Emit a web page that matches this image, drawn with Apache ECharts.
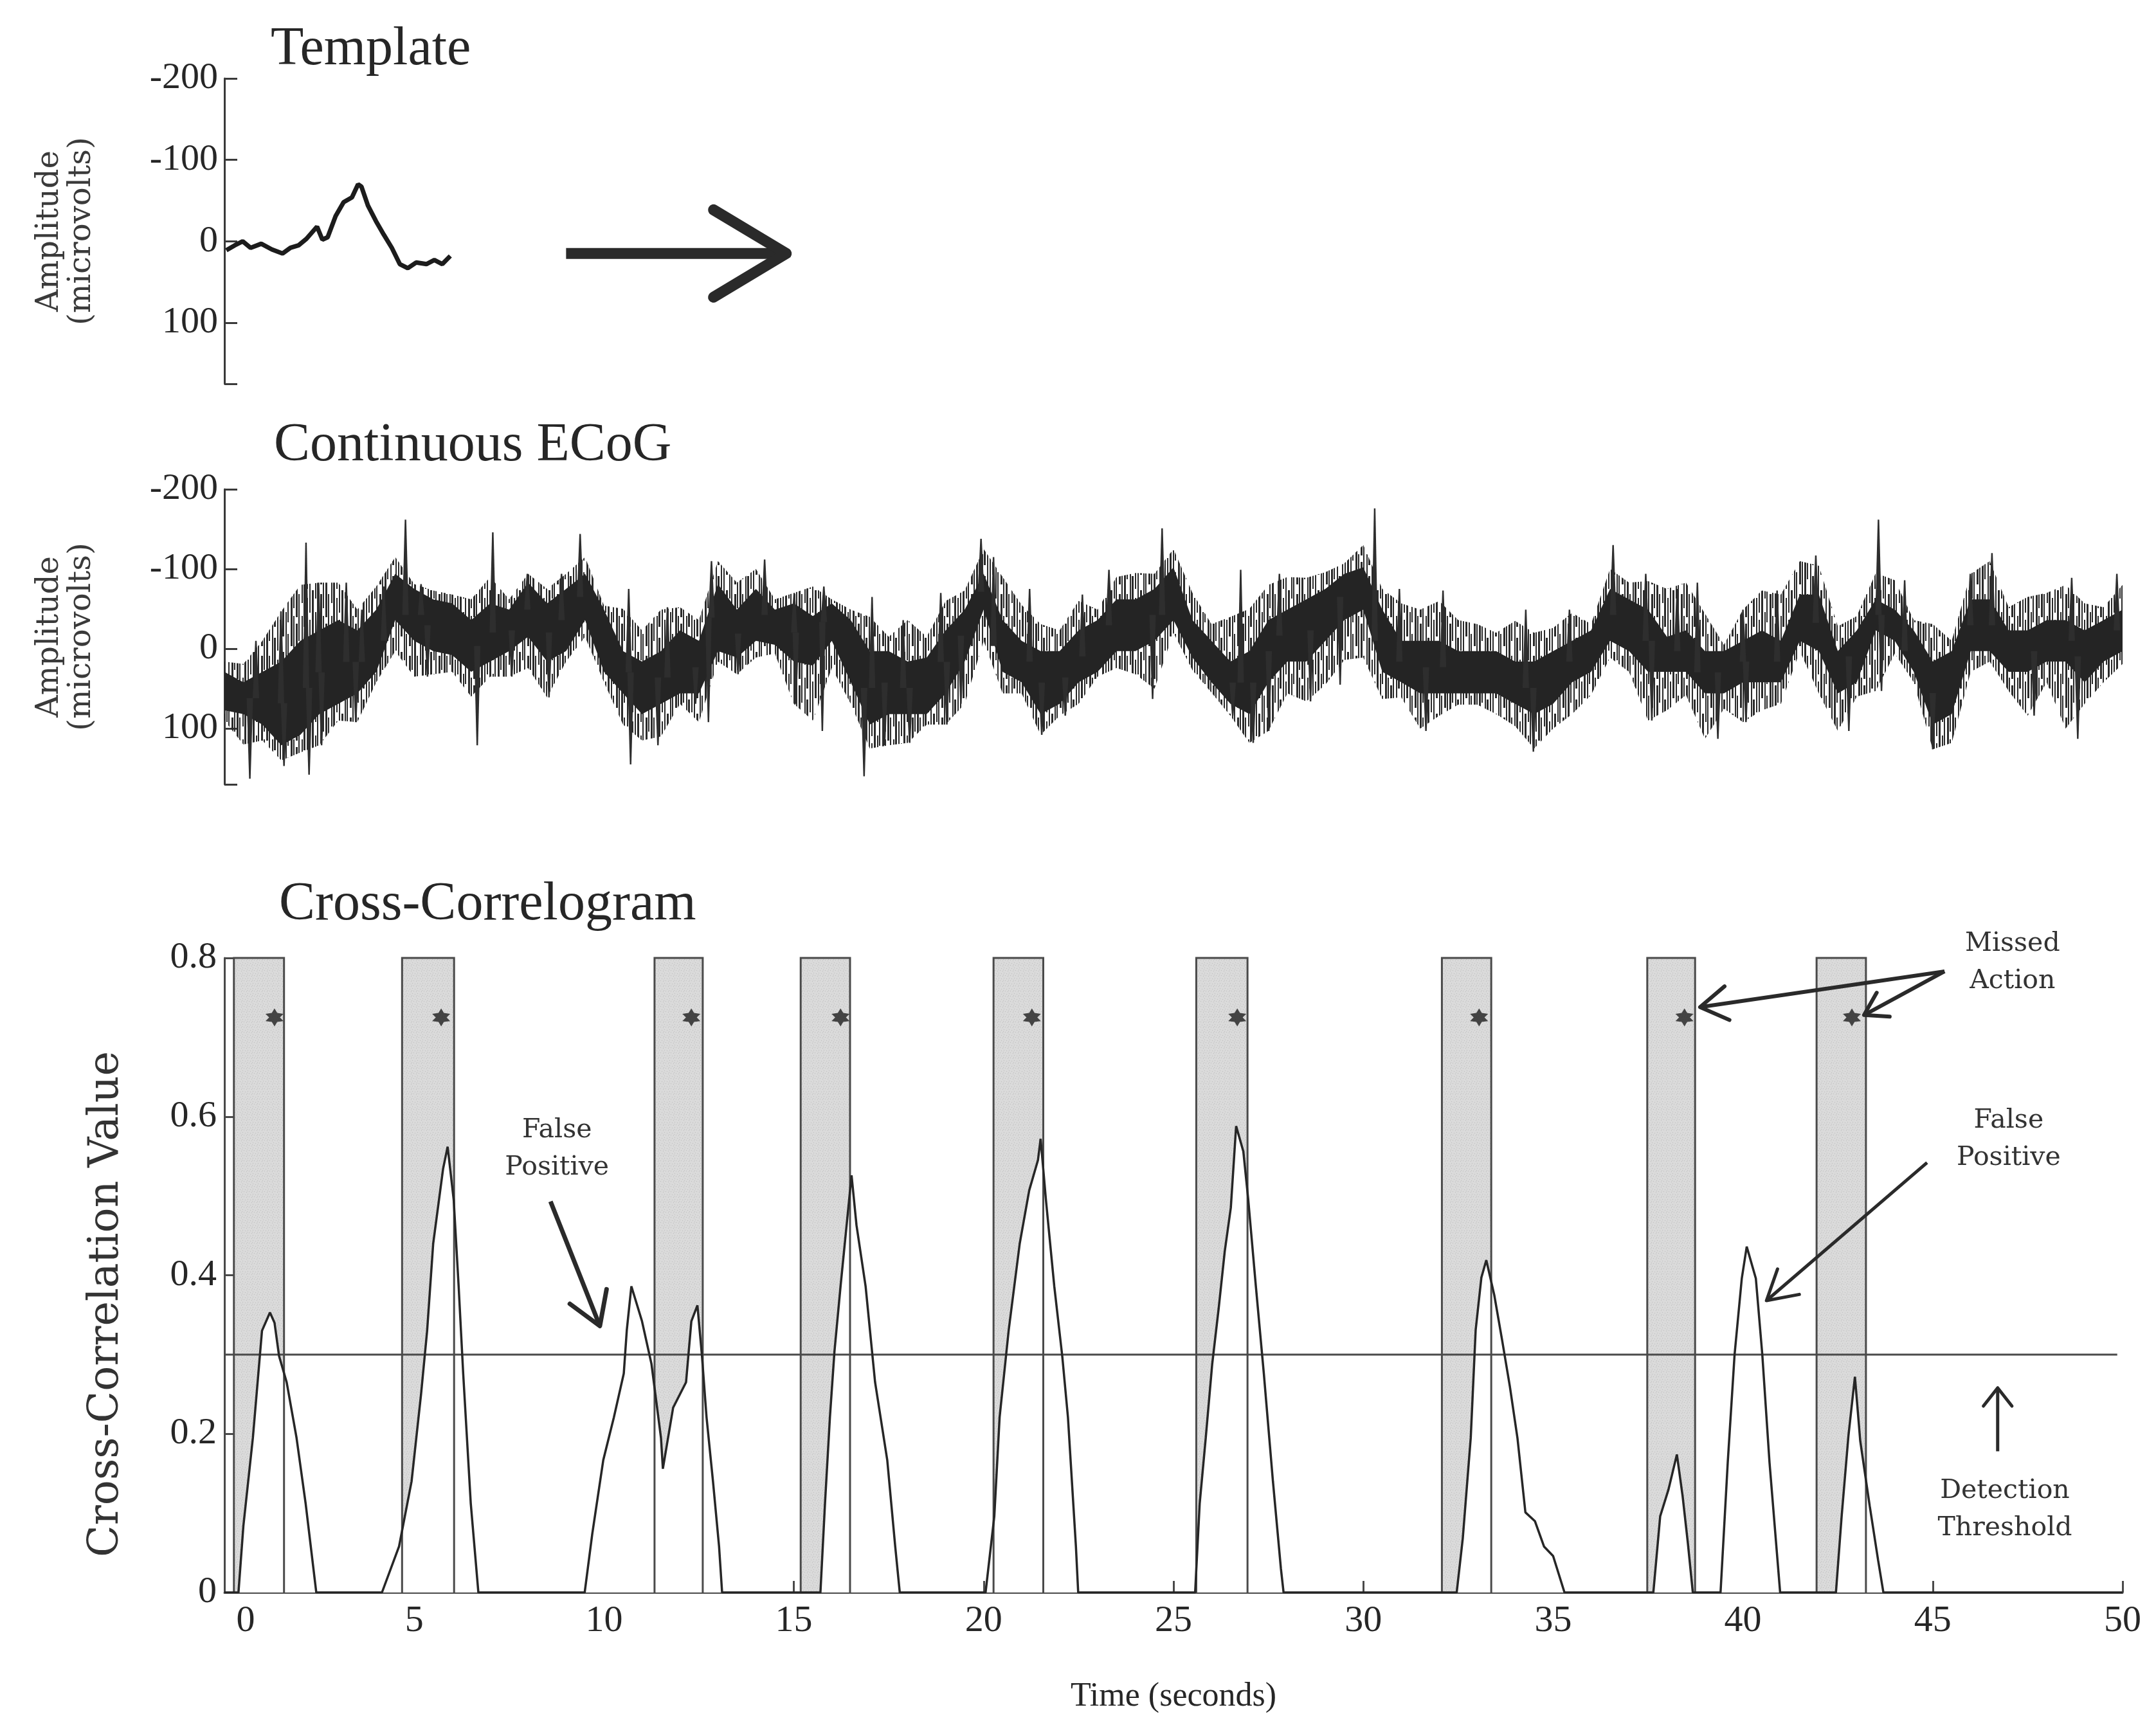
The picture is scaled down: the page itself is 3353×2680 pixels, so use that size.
<!DOCTYPE html>
<html>
<head>
<meta charset="utf-8">
<script src="https://cdn.jsdelivr.net/npm/echarts@6/dist/echarts.min.js"></script>
<style>
  html, body { margin: 0; padding: 0; background: #ffffff; }
  #chart { width: 3353px; height: 2680px; }
</style>
</head>
<body>
<div id="chart"></div>
<script>
// ---------------- data ----------------
// Template waveform: time (s) and amplitude (microvolts, negative is up)
const templateTime = [0.05, 0.27, 0.48, 0.69, 0.97, 1.25, 1.53, 1.74, 1.95, 2.16, 2.44, 2.58, 2.72, 2.93,
  3.14, 3.36, 3.52, 3.61, 3.78, 3.99, 4.2, 4.41, 4.62, 4.83, 5.05, 5.32, 5.53, 5.74, 5.95];
const templateAmp = [11, 5, 0, 8, 3, 10, 15, 8, 5, -3, -18, -2, -5, -31,
  -48, -54, -70, -67, -44, -25, -8, 8, 28, 33, 26, 28, 23, 28, 18];

// Continuous ECoG, sampled every ecogStep seconds:
// dense core of the trace (upper / lower edge) ...
const ecogStep = 0.5;
const ecogUpper = [29, 42, 29, 16, -10, -23, -36, -23, -49, -94, -75, -62, -57, -36, -57, -49, -83, -57, -75, -94,
  -49, 3, 16, 3, -23, -10, -81, -49, -75, -49, -57, -41, -57, -36, 3, 3, 16, 11, -23, -49,
  -94, -36, -10, 3, 3, -23, -36, -62, -62, -75, -102, -36, -10, 16, 3, -36, -49, -62, -75, -94,
  -102, -49, -10, -10, -10, 3, 3, 3, 16, 16, 3, -10, -23, -75, -62, -49, -15, -23, 3, 3,
  -10, -23, -10, -68, -68, 3, -23, -62, -49, -23, 16, 3, -62, -62, -23, -23, -36, -36, -23, -36, -49];
const ecogLower = [77, 82, 95, 121, 108, 82, 69, 56, 29, -36, -10, 3, 8, 29, 16, 3, -15, 16, 3, -36,
  29, 56, 82, 69, 56, 56, 3, 11, -10, -5, 16, 21, -10, 42, 95, 82, 82, 82, 56, 16,
  -49, 29, 42, 82, 69, 42, 29, 3, 3, -10, -36, 11, 42, 69, 82, 42, 16, 16, -10, -36,
  -49, 29, 42, 56, 56, 56, 56, 56, 69, 82, 69, 42, 29, -10, 3, 29, 29, 29, 56, 56,
  42, 42, 42, -10, 3, 56, 42, -23, -10, 29, 95, 82, 3, 3, 29, 29, 16, 16, 42, 16, 3];
// ... and the reach of the fine jitter around it
const ecogJitterUp = [16, 19, -10, -47, -80, -83, -83, -49, -78, -115, -81, -73, -68, -62, -90, -62, -94, -75, -94, -115,
  -54, -50, -23, -49, -52, -36, -110, -83, -100, -62, -70, -78, -62, -49, -40, -15, -36, -15, -60, -73,
  -125, -90, -55, -31, -23, -60, -49, -90, -95, -94, -125, -70, -31, -40, -50, -80, -90, -89, -96, -107,
  -130, -75, -57, -49, -60, -36, -31, -20, -35, -20, -26, -45, -31, -100, -83, -85, -75, -83, -44, -5,
  -49, -73, -68, -110, -104, -28, -41, -95, -86, -36, -31, -10, -94, -110, -52, -65, -70, -80, -57, -52, -80];
const ecogJitterDown = [90, 120, 115, 140, 130, 121, 90, 92, 42, 3, 35, 32, 29, 60, 35, 35, 24, 61, 16, -15,
  42, 95, 115, 110, 69, 92, 16, 32, 11, 6, 69, 90, 24, 69, 125, 121, 118, 95, 95, 69,
  -10, 56, 56, 108, 84, 69, 35, 24, 32, 50, -20, 27, 55, 84, 118, 103, 56, 66, 45, 14,
  11, 63, 61, 100, 84, 70, 70, 82, 97, 125, 100, 82, 58, 11, 29, 90, 77, 58, 113, 75,
  92, 77, 69, 3, 56, 103, 60, 53, 6, 42, 126, 118, 29, 16, 53, 84, 42, 100, 69, 42, 19];
// Isolated excursions of the ECoG trace: [time (s), amplitude (microvolts)]
const ecogSpikes = [[0.67, 163], [0.83, -10], [1.49, -47], [1.57, 147], [2.15, -133], [2.23, 158], [2.48, -83],
  [2.56, 121], [3.21, -83], [3.46, 92], [3.62, -49], [4.2, -78], [4.77, -162], [5.18, -81], [5.35, 35],
  [6.66, 121], [7.07, -146], [7.57, 35], [7.98, -94], [8.55, 61], [8.88, -94], [9.37, -144], [10.65, -75],
  [10.7, 145], [11.42, 121], [11.67, -52], [12.41, 69], [12.75, 92], [12.83, -110], [13.53, 32], [14.23, -112],
  [15.01, -70], [15.05, 69], [15.75, 103], [15.79, -78], [16.85, 160], [17.06, -65], [17.39, 121], [17.88, -36],
  [18.05, 118], [18.87, -70], [19.03, 95], [19.4, 69], [19.93, -138], [20.26, -115], [21.21, -75], [21.53, 108],
  [22.15, 84], [22.6, -68], [23.3, -99], [24.45, 63], [24.7, -151], [26.56, 84], [26.77, -99], [27.1, 118],
  [27.51, 103], [27.79, -94], [28.61, 66], [29.39, 45], [30.3, -176], [30.95, -75], [31.65, 103], [32.1, -73],
  [34.28, -49], [34.48, 129], [35.43, -49], [36.58, -130], [37.44, -94], [37.6, 90], [38.27, -75], [38.8, -83],
  [39.34, 113], [40.0, -49], [40.08, 92], [40.9, -73], [41.92, -117], [42.79, 103], [43.57, -162], [43.65, 53],
  [44.26, -86], [45.0, 126], [45.99, -94], [46.56, -120], [47.67, 84], [48.66, -89], [48.82, 113], [49.85, -94]];

// Cross-correlogram: [time (s), cross-correlation value]
const xcorr = [[0, 0], [0.37, 0], [0.5, 0.084], [0.75, 0.195], [0.99, 0.33], [1.2, 0.353], [1.32, 0.34], [1.44, 0.298],
  [1.64, 0.265], [1.9, 0.195], [2.14, 0.112], [2.42, 0],
  [4.15, 0], [4.6, 0.058], [4.93, 0.14], [5.18, 0.25], [5.34, 0.33], [5.5, 0.44], [5.76, 0.534], [5.88, 0.562],
  [6.04, 0.495], [6.17, 0.386], [6.29, 0.276], [6.49, 0.112], [6.69, 0],
  [9.49, 0], [9.69, 0.074], [9.98, 0.167], [10.26, 0.221], [10.52, 0.276], [10.6, 0.331], [10.72, 0.386], [11.0, 0.342],
  [11.25, 0.288], [11.5, 0.195], [11.55, 0.156], [11.82, 0.233], [12.16, 0.265], [12.3, 0.342], [12.46, 0.362],
  [12.58, 0.298], [12.7, 0.221], [12.87, 0.14], [13.03, 0.058], [13.11, 0],
  [15.7, 0], [15.82, 0.112], [15.95, 0.221], [16.07, 0.304], [16.23, 0.386], [16.4, 0.468], [16.52, 0.526],
  [16.65, 0.463], [16.89, 0.386], [17.14, 0.265], [17.46, 0.167], [17.67, 0.058], [17.79, 0],
  [20.05, 0], [20.28, 0.096], [20.42, 0.221], [20.66, 0.331], [20.95, 0.44], [21.2, 0.507], [21.43, 0.545], [21.5, 0.572],
  [21.64, 0.495], [21.86, 0.386], [22.07, 0.298], [22.22, 0.221], [22.43, 0.058], [22.49, 0],
  [25.57, 0], [25.69, 0.112], [25.85, 0.195], [26.02, 0.288], [26.19, 0.358], [26.35, 0.43], [26.51, 0.485], [26.65, 0.588],
  [26.84, 0.556], [26.97, 0.495], [27.17, 0.386], [27.38, 0.276], [27.62, 0.14], [27.83, 0.03], [27.9, 0],
  [32.46, 0], [32.62, 0.068], [32.83, 0.195], [32.96, 0.331], [33.11, 0.397], [33.24, 0.419], [33.45, 0.375], [33.65, 0.32],
  [33.86, 0.26], [34.06, 0.195], [34.27, 0.101], [34.52, 0.09], [34.76, 0.058], [35.0, 0.046], [35.3, 0],
  [37.64, 0], [37.82, 0.096], [38.04, 0.13], [38.26, 0.174], [38.41, 0.122], [38.55, 0.062], [38.68, 0],
  [39.41, 0], [39.6, 0.164], [39.78, 0.3], [39.97, 0.396], [40.1, 0.436], [40.34, 0.396], [40.51, 0.3], [40.7, 0.164], [40.98, 0],
  [42.45, 0], [42.6, 0.096], [42.78, 0.198], [42.95, 0.272], [43.09, 0.191], [43.34, 0.109], [43.56, 0.041], [43.7, 0], [50, 0]];

// Action windows [start, end] (s) and the action markers inside them
const actionWindows = [[0.25, 1.57], [4.68, 6.05], [11.33, 12.6], [15.18, 16.48], [20.26, 21.57],
  [25.6, 26.95], [32.07, 33.37], [37.48, 38.74], [41.94, 43.24]];
const actionTimes = [1.32, 5.71, 12.3, 16.23, 21.27, 26.68, 33.05, 38.46, 42.87];
const actionLevel = 0.725;
const detectionThreshold = 0.3;
const thresholdEnd = 49.86;

// Tick labels
const timeTickLabels = ['0', '5', '10', '15', '20', '25', '30', '35', '40', '45', '50'];
const ampTickLabels = ['-200', '-100', '0', '100'];
const corrTickLabels = ['0', '0.2', '0.4', '0.6', '0.8'];

// ---------------- textures ----------------
// broken vertical strokes used for the jitter around the ECoG core
function strokeTexture() {
  const c = document.createElement('canvas');
  c.width = 46; c.height = 96;
  const g = c.getContext('2d');
  g.fillStyle = '#2a2a2a';
  const cols = [0, 4, 9, 12, 17, 21, 25, 30, 33, 38, 42];
  cols.forEach((x, k) => {
    const w = k % 3 === 0 ? 3 : 2;
    const gapStart = (k * 37) % 96;
    const gapLen = 10 + (k * 13) % 16;
    for (let y = 0; y < 96; y++) {
      const inGap = ((y - gapStart + 96) % 96) < gapLen;
      if (!inGap) g.fillRect(x, y, w, 1);
    }
  });
  return c;
}
// light stipple for the action windows
function stippleTexture() {
  const c = document.createElement('canvas');
  c.width = 8; c.height = 8;
  const g = c.getContext('2d');
  g.fillStyle = '#dadada';
  g.fillRect(0, 0, 8, 8);
  g.fillStyle = '#bdbdbd';
  [[1, 1], [5, 2], [3, 5], [7, 6], [0, 4]].forEach(([x, y]) => g.fillRect(x, y, 1, 1));
  return c;
}
const strokeFill = { image: strokeTexture(), repeat: 'repeat' };
const stippleFill = { image: stippleTexture(), repeat: 'repeat' };

// ---------------- chart ----------------
const chart = echarts.init(document.getElementById('chart'), null, { renderer: 'canvas', width: 3353, height: 2680 });

const SERIF = 'Liberation Serif';
const WIDE_SERIF = 'DejaVu Serif';
const INK = '#262626';
const tickFont = { fontFamily: SERIF, fontSize: 58, color: INK };
const titleFont = { fontFamily: SERIF, fontSize: 84, fontWeight: 'normal', color: INK };

function ampAxis(gridIndex, max) {
  return {
    type: 'value', gridIndex, inverse: true, min: -200, max, interval: 100,
    axisLine: { show: true, lineStyle: { color: '#3a3a3a', width: 3 } },
    axisTick: { show: true, inside: true, length: 20, lineStyle: { color: '#3a3a3a', width: 3 } },
    splitLine: { show: false },
    axisLabel: Object.assign({ margin: 10, formatter: v => (ampTickLabels.includes(String(v)) ? String(v) : '') }, tickFont),
    name: 'Amplitude\n(microvolts)', nameLocation: 'middle', nameRotate: 90, nameGap: 196,
    nameTextStyle: { fontFamily: WIDE_SERIF, fontSize: 48, lineHeight: 50, color: '#3a3a3a' }
  };
}
function hiddenTimeAxis(gridIndex) {
  return { type: 'value', gridIndex, min: 0, max: 50, show: false };
}

const ecogTime = ecogUpper.map((_, i) => i * ecogStep);

function bandPolygon(api, upper, lower, fill) {
  const top = ecogTime.map((t, i) => api.coord([t, upper[i]]));
  const bottom = ecogTime.map((t, i) => api.coord([t, lower[i]])).reverse();
  return { type: 'polygon', shape: { points: top.concat(bottom) }, style: { fill } };
}

const option = {
  animation: false,
  backgroundColor: '#ffffff',
  title: [
    { text: 'Template', left: 421, top: 36, padding: 0, textStyle: titleFont },
    { text: 'Continuous ECoG', left: 426, top: 652, padding: 0, textStyle: titleFont },
    { text: 'Cross-Correlogram', left: 434, top: 1366, padding: 0, textStyle: titleFont }
  ],
  grid: [
    { left: 349, right: 52, top: 122, height: 475 },
    { left: 349, right: 52, top: 761, height: 459 },
    { left: 349, right: 52, top: 1490, height: 987 }
  ],
  xAxis: [
    hiddenTimeAxis(0),
    hiddenTimeAxis(1),
    {
      type: 'value', gridIndex: 2, min: 0, max: 50, interval: 5,
      axisLine: { show: true, onZero: false, lineStyle: { color: '#4a4a4a', width: 3 } },
      axisTick: { show: true, inside: true, length: 18, lineStyle: { color: '#4a4a4a', width: 3 } },
      splitLine: { show: false },
      axisLabel: Object.assign({
        margin: 16,
        formatter: v => { const s = String(v); if (!timeTickLabels.includes(s)) return ''; return v === 0 ? '{first|' + s + '}' : s; },
        rich: { first: { fontFamily: SERIF, fontSize: 58, color: INK, padding: [0, 0, 0, 66] } }
      }, tickFont),
      name: 'Time (seconds)', nameLocation: 'middle', nameGap: 136,
      nameTextStyle: { fontFamily: SERIF, fontSize: 52, color: INK }
    }
  ],
  yAxis: [
    ampAxis(0, 175),
    ampAxis(1, 170),
    {
      type: 'value', gridIndex: 2, min: 0, max: 0.8, interval: 0.2,
      axisLine: { show: true, lineStyle: { color: '#4a4a4a', width: 3 } },
      axisTick: { show: true, inside: true, length: 20, lineStyle: { color: '#4a4a4a', width: 3 } },
      splitLine: { show: false },
      axisLabel: Object.assign({ margin: 12, formatter: v => { const s = v === 0 ? '0' : v.toFixed(1); return corrTickLabels.includes(s) ? s : ''; } }, tickFont),
      name: 'Cross-Correlation Value', nameLocation: 'middle', nameRotate: 90, nameGap: 150,
      nameTextStyle: { fontFamily: WIDE_SERIF, fontSize: 65, color: '#333333', padding: [0, 90, 0, 0] }
    }
  ],
  series: [
    // template waveform
    {
      type: 'line', xAxisIndex: 0, yAxisIndex: 0, symbol: 'none',
      data: templateTime.map((t, i) => [t, templateAmp[i]]),
      lineStyle: { color: '#1c1c1c', width: 7 }, z: 3
    },
    // ECoG jitter envelope (fine strokes)
    {
      type: 'custom', xAxisIndex: 1, yAxisIndex: 1, data: [[0]], silent: true, z: 1,
      renderItem: (params, api) => bandPolygon(api, ecogJitterUp, ecogJitterDown, strokeFill)
    },
    // ECoG dense core
    {
      type: 'custom', xAxisIndex: 1, yAxisIndex: 1, data: [[0]], silent: true, z: 2,
      renderItem: (params, api) => bandPolygon(api, ecogUpper, ecogLower, '#242424')
    },
    // ECoG excursions, drawn from the middle of the core out to each tip
    {
      type: 'custom', xAxisIndex: 1, yAxisIndex: 1, data: ecogSpikes, encode: { x: 0, y: 1 }, z: 3,
      renderItem: (params, api) => {
        const t = api.value(0), tip = api.value(1);
        const i = Math.min(ecogUpper.length - 1, Math.round(t / ecogStep));
        const mid = (ecogUpper[i] + ecogLower[i]) / 2;
        const a = api.coord([t, mid]), b = api.coord([t, tip]);
        return {
          type: 'polygon',
          shape: { points: [[a[0] - 5, a[1]], [a[0] + 5, a[1]], [b[0] + 1.2, b[1]], [b[0] - 1.2, b[1]]] },
          style: { fill: '#2e2e2e' }
        };
      }
    },
    // shaded action windows
    {
      type: 'custom', xAxisIndex: 2, yAxisIndex: 2, data: actionWindows, encode: { x: [0, 1] }, z: 1,
      renderItem: (params, api) => {
        const p0 = api.coord([api.value(0), 0.8]);
        const p1 = api.coord([api.value(1), 0]);
        return { type: 'rect', shape: { x: p0[0], y: p0[1], width: p1[0] - p0[0], height: p1[1] - p0[1] }, style: { fill: stippleFill } };
      }
    },
    // white fill beneath the correlogram
    {
      type: 'line', xAxisIndex: 2, yAxisIndex: 2, symbol: 'none', data: xcorr,
      lineStyle: { width: 0, opacity: 0 }, areaStyle: { color: '#ffffff', opacity: 1 }, z: 2
    },
    // window outlines
    {
      type: 'custom', xAxisIndex: 2, yAxisIndex: 2, data: actionWindows, encode: { x: [0, 1] }, z: 3,
      renderItem: (params, api) => {
        const a = api.coord([api.value(0), 0]), b = api.coord([api.value(0), 0.8]);
        const c = api.coord([api.value(1), 0.8]), d = api.coord([api.value(1), 0]);
        return { type: 'polyline', shape: { points: [a, b, c, d] }, style: { stroke: '#4a4a4a', lineWidth: 3, fill: null } };
      }
    },
    // detection threshold
    {
      type: 'line', xAxisIndex: 2, yAxisIndex: 2, symbol: 'none',
      data: [[0, detectionThreshold], [thresholdEnd, detectionThreshold]],
      lineStyle: { color: '#4a4a4a', width: 3 }, z: 3
    },
    // correlogram trace
    {
      type: 'line', xAxisIndex: 2, yAxisIndex: 2, symbol: 'none', data: xcorr,
      lineStyle: { color: '#262626', width: 3.5 }, z: 4
    },
    // action markers
    {
      type: 'scatter', xAxisIndex: 2, yAxisIndex: 2,
      data: actionTimes.map(t => [t, actionLevel]),
      symbol: 'path://M0,-10 L3,-5 L10,-4 L6,0 L10,4 L3,5 L0,10 L-3,5 L-10,4 L-6,0 L-10,-4 L-3,-5 Z',
      symbolSize: 28, itemStyle: { color: '#1e1e1e' }, z: 5
    }
  ]
};
chart.setOption(option);

// ---------------- annotations (anchored in axis units) ----------------
const annotationTexts = [
  { grid: 2, at: [8.76, 0.559], text: 'False\nPositive' },
  { grid: 2, at: [47.1, 0.794], text: 'Missed\nAction' },
  { grid: 2, at: [47.0, 0.571], text: 'False\nPositive' },
  { grid: 2, at: [46.9, 0.104], text: 'Detection\nThreshold' }
];
const annotationArrows = [
  { grid: 0, from: [9.0, 15], to: [14.8, 15], head: 132, angle: 31, width: 17 },
  { grid: 2, from: [8.59, 0.493], to: [9.89, 0.336], head: 58, angle: 32, width: 7 },
  { grid: 2, from: [45.31, 0.783], to: [38.87, 0.738], head: 50, angle: 32, width: 6 },
  { grid: 2, from: [45.31, 0.783], to: [43.19, 0.728], head: 40, angle: 32, width: 6 },
  { grid: 2, from: [44.85, 0.542], to: [40.62, 0.368], head: 52, angle: 30, width: 5 },
  { grid: 2, from: [46.71, 0.178], to: [46.71, 0.258], head: 36, angle: 38, width: 5 }
];

const toPx = (g, pt) => chart.convertToPixel({ xAxisIndex: g, yAxisIndex: g }, pt);
const graphics = [];
annotationArrows.forEach(a => {
  const p0 = toPx(a.grid, a.from), p1 = toPx(a.grid, a.to);
  const ang = Math.atan2(p1[1] - p0[1], p1[0] - p0[0]);
  const h = a.angle * Math.PI / 180;
  const w1 = [p1[0] - a.head * Math.cos(ang - h), p1[1] - a.head * Math.sin(ang - h)];
  const w2 = [p1[0] - a.head * Math.cos(ang + h), p1[1] - a.head * Math.sin(ang + h)];
  graphics.push({ type: 'line', z: 50, shape: { x1: p0[0], y1: p0[1], x2: p1[0], y2: p1[1] }, style: { stroke: '#2a2a2a', lineWidth: a.width, lineCap: 'butt' } });
  graphics.push({ type: 'polyline', z: 50, shape: { points: [w1, p1, w2] }, style: { stroke: '#2a2a2a', lineWidth: a.width, lineJoin: 'round', lineCap: 'round', fill: null } });
});
annotationTexts.forEach(a => {
  const p = toPx(a.grid, a.at);
  graphics.push({
    type: 'text', z: 50, x: p[0], y: p[1],
    style: { text: a.text, align: 'center', verticalAlign: 'middle', fontFamily: WIDE_SERIF, fontSize: 41, lineHeight: 58, fill: '#333333' }
  });
});
chart.setOption({ graphic: graphics });
</script>
</body>
</html>
